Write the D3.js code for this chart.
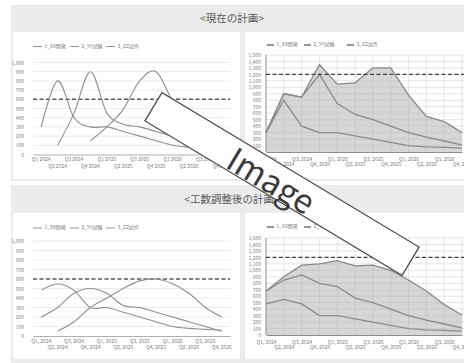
<!DOCTYPE html>
<html>
<head>
<meta charset="utf-8">
<script src="https://cdn.jsdelivr.net/npm/d3@7"></script>
<style>
  html, body { margin: 0; padding: 0; background: #ffffff; }
  svg { display: block; }
  text { font-family: "Noto Sans CJK JP", "Liberation Sans", sans-serif; }
</style>
</head>
<body>
<svg id="board" width="464" height="363"></svg>
<script>
// ---- data ----
const periods = ["Q1 2024","Q2 2024","Q3 2024","Q4 2024","Q1 2025","Q2 2025","Q3 2025","Q4 2025","Q1 2026","Q2 2026","Q3 2026","Q4 2026"];
const periodsComma = ["Q1, 2024","Q2, 2024","Q3, 2024","Q4, 2024","Q1, 2025","Q2, 2025","Q3, 2025","Q4, 2025","Q1, 2026","Q2, 2026","Q3, 2026","Q4, 2026"];
const seriesNames = ["1_XX開発", "2_YY試験", "3_ZZ試作"];

// current plan (man-hours per quarter)
const currentXX = [300, 800, 400, 300, 300, 250, 200, 150, 100, 80, 70, 60];
const currentYY = [null, 100, 450, 900, 450, 330, 300, 250, 200, 150, 100, 50];
const currentZZ = [null, null, null, 150, 300, 490, 800, 900, 580, 320, 300, 190];

// plan after workload adjustment
const adjustedXX = [480, 550, 480, 300, 300, 250, 200, 150, 100, 80, 70, 60];
const adjustedYY = [200, 300, 450, 500, 450, 320, 300, 250, 200, 150, 100, 50];
const adjustedZZ = [null, 50, 150, 300, 400, 500, 580, 600, 550, 450, 300, 200];

const lineTicks = [0, 100, 200, 300, 400, 500, 600, 700, 800, 900, 1000];
const areaTicks = [0, 100, 200, 300, 400, 500, 600, 700, 800, 900, 1000, 1100, 1200, 1300, 1400, 1500];
const singleLimit = 600;   // capacity line, per project
const totalLimit = 1200;   // capacity line, total

const panelTitles = ["<現在の計画>", "<工数調整後の計画>"];

// ---- drawing ----
const svg = d3.select("#board");
const fmt = d3.format(",");
const tickFont = 5;

function panel(y0, h, title, titleY) {
  svg.append("rect").attr("x", 11).attr("y", y0).attr("width", 460).attr("height", h).attr("fill", "#ebebeb");
  svg.append("text").attr("x", 232).attr("y", titleY).attr("text-anchor", "middle")
    .attr("dominant-baseline", "middle").attr("font-size", 10.5).attr("fill", "#595959").text(title);
}

function card(x, y, w, h) {
  svg.append("rect").attr("x", x).attr("y", y).attr("width", w).attr("height", h).attr("fill", "#ffffff");
}

function legend(g, x0, y, offsets, swatchW, swatchH) {
  seriesNames.forEach((name, i) => {
    const x = x0 + offsets[i];
    g.append("rect").attr("x", x).attr("y", y - swatchH / 2).attr("width", swatchW).attr("height", swatchH).attr("fill", "#8a8a8a");
    g.append("text").attr("x", x + swatchW + 2.5).attr("y", y).attr("dominant-baseline", "middle")
      .attr("font-size", tickFont).attr("fill", "#7a7a7a").text(name);
  });
}

function lineChart(cfg) {
  const g = svg.append("g");
  const x = d3.scaleBand().domain(d3.range(periods.length)).range([cfg.x0, cfg.x1]).paddingInner(0).paddingOuter(0);
  const y = d3.scaleLinear().domain([0, 1000]).range([cfg.yb, cfg.yt]);
  const cx = i => x(i) + x.bandwidth() / 2;

  // horizontal grid
  g.append("g").selectAll("line").data(lineTicks.slice(1)).join("line")
    .attr("x1", cfg.x0).attr("x2", cfg.x1).attr("y1", d => y(d)).attr("y2", d => y(d))
    .attr("stroke", "#e6e6e6").attr("stroke-width", 0.8);

  // y axis labels
  const ya = d3.axisLeft(y).tickValues(lineTicks).tickFormat(fmt).tickSize(0).tickPadding(0);
  const yg = g.append("g").attr("transform", `translate(${cfg.x0 - 9},0)`).call(ya);
  yg.select(".domain").remove();
  yg.selectAll("text").attr("font-size", tickFont).attr("fill", "#7a7a7a").attr("font-family", "Liberation Sans, sans-serif");

  // x axis
  const xa = d3.axisBottom(x).tickFormat(i => cfg.labels[i]).tickSize(0).tickPadding(0);
  const xg = g.append("g").attr("transform", `translate(0,${cfg.yb})`).call(xa);
  xg.select(".domain").attr("stroke", "#a6a6a6").attr("stroke-width", 0.9);
  xg.selectAll("text").attr("font-size", tickFont).attr("fill", "#7a7a7a").attr("font-family", "Liberation Sans, sans-serif")
    .attr("dy", null).attr("y", (d, i) => i % 2 === 0 ? 5.5 : 12).attr("dominant-baseline", "middle");

  // capacity line
  g.append("line").attr("x1", cfg.x0).attr("x2", cfg.x1).attr("y1", y(singleLimit)).attr("y2", y(singleLimit))
    .attr("stroke", "#595959").attr("stroke-width", 1.5).attr("stroke-dasharray", "4,2.5");

  // series
  const line = d3.line().defined(d => d != null).x((d, i) => cx(i)).y(d => y(d)).curve(d3.curveCatmullRom.alpha(0));
  cfg.series.forEach(s => {
    g.append("path").attr("d", line(s)).attr("fill", "none").attr("stroke", "#8f8f8f").attr("stroke-width", 1.1);
  });

  legend(g, cfg.x0, cfg.legendY, [0, 37, 73], 9, 0.9);
}

function areaChart(cfg) {
  const g = svg.append("g");
  const x = d3.scalePoint().domain(d3.range(periods.length)).range([cfg.x0, cfg.x1]);
  const y = d3.scaleLinear().domain([0, 1500]).range([cfg.yb, cfg.yt]);

  // grid
  g.append("g").selectAll("line").data(areaTicks.slice(1)).join("line")
    .attr("x1", cfg.x0).attr("x2", cfg.x1 + 6).attr("y1", d => y(d)).attr("y2", d => y(d))
    .attr("stroke", "#dedede").attr("stroke-width", 0.8);
  g.append("g").selectAll("line").data(d3.range(1, periods.length)).join("line")
    .attr("x1", d => x(d)).attr("x2", d => x(d)).attr("y1", cfg.yt).attr("y2", cfg.yb)
    .attr("stroke", "#dedede").attr("stroke-width", 0.8);

  // stacked areas
  const rows = periods.map((p, i) => ({ i, a: cfg.series[0][i] || 0, b: cfg.series[1][i] || 0, c: cfg.series[2][i] || 0 }));
  const stacked = d3.stack().keys(["a", "b", "c"])(rows);
  const area = d3.area().x(d => x(d.data.i)).y0(d => y(d[0])).y1(d => y(d[1]));
  stacked.forEach(layer => {
    g.append("path").attr("d", area(layer)).attr("fill", "#b4b4b4").attr("fill-opacity", 0.55);
  });
  const topLine = d3.line().x(d => x(d.data.i)).y(d => y(d[1]));
  stacked.forEach(layer => {
    g.append("path").attr("d", topLine(layer)).attr("fill", "none").attr("stroke", "#8a8a8a").attr("stroke-width", 1.3);
  });

  // axes
  const ya = d3.axisLeft(y).tickValues(areaTicks).tickFormat(fmt).tickSize(0).tickPadding(0);
  const yg = g.append("g").attr("transform", `translate(${cfg.x0 - 5},0)`).call(ya);
  yg.select(".domain").remove();
  yg.selectAll("text").attr("font-size", tickFont).attr("fill", "#7a7a7a").attr("font-family", "Liberation Sans, sans-serif");
  g.append("line").attr("x1", cfg.x0).attr("x2", cfg.x0).attr("y1", cfg.yt).attr("y2", cfg.yb).attr("stroke", "#7f7f7f").attr("stroke-width", 0.9);

  const xa = d3.axisBottom(x).tickFormat(i => periodsComma[i]).tickSize(0).tickPadding(0);
  const xg = g.append("g").attr("transform", `translate(0,${cfg.yb})`).call(xa);
  xg.select(".domain").attr("stroke", "#7f7f7f").attr("stroke-width", 0.9);
  xg.selectAll("text").attr("font-size", tickFont).attr("fill", "#7a7a7a").attr("font-family", "Liberation Sans, sans-serif")
    .attr("dy", null).attr("y", (d, i) => i % 2 === 0 ? 7.5 : 13).attr("dominant-baseline", "middle");

  g.append("line").attr("x1", cfg.x0).attr("x2", cfg.x1 + 6).attr("y1", y(totalLimit)).attr("y2", y(totalLimit))
    .attr("stroke", "#404040").attr("stroke-width", 1.4).attr("stroke-dasharray", "4,2.5");

  legend(g, cfg.x0 + 1, cfg.legendY, [0, 37, 80], 7, 1.8);
}

// top panel: current plan
panel(5, 176, panelTitles[0], 19);
card(13, 32, 227, 147);
card(245, 32, 230, 147);
lineChart({ x0: 33, x1: 230, yb: 154.5, yt: 62.5, legendY: 46.5, labels: periods, series: [currentXX, currentYY, currentZZ] });
areaChart({ x0: 266, x1: 462, yb: 152, yt: 55, legendY: 45, series: [currentXX, currentYY, currentZZ] });

// bottom panel: adjusted plan
panel(185, 178, panelTitles[1], 200);
card(13, 213, 227, 146);
card(245, 213, 230, 146);
lineChart({ x0: 33, x1: 230, yb: 336, yt: 241, legendY: 228, labels: periodsComma, series: [adjustedXX, adjustedYY, adjustedZZ] });
areaChart({ x0: 266, x1: 462, yb: 335, yt: 238, legendY: 227, series: [adjustedXX, adjustedYY, adjustedZZ] });

// "Image" placeholder banner laid across the board
const banner = svg.append("g").attr("transform", "translate(282,184) rotate(31)");
banner.append("rect").attr("x", -150).attr("y", -16.5).attr("width", 300).attr("height", 33)
  .attr("fill", "#ffffff").attr("stroke", "#4d4d4d").attr("stroke-width", 1.3);
banner.append("text").attr("x", -11).attr("y", 1).attr("text-anchor", "middle").attr("dominant-baseline", "central")
  .attr("font-family", "Liberation Sans, Arial, sans-serif").attr("font-size", 33).attr("fill", "#3a3a3a").text("Image");
</script>
</body>
</html>
